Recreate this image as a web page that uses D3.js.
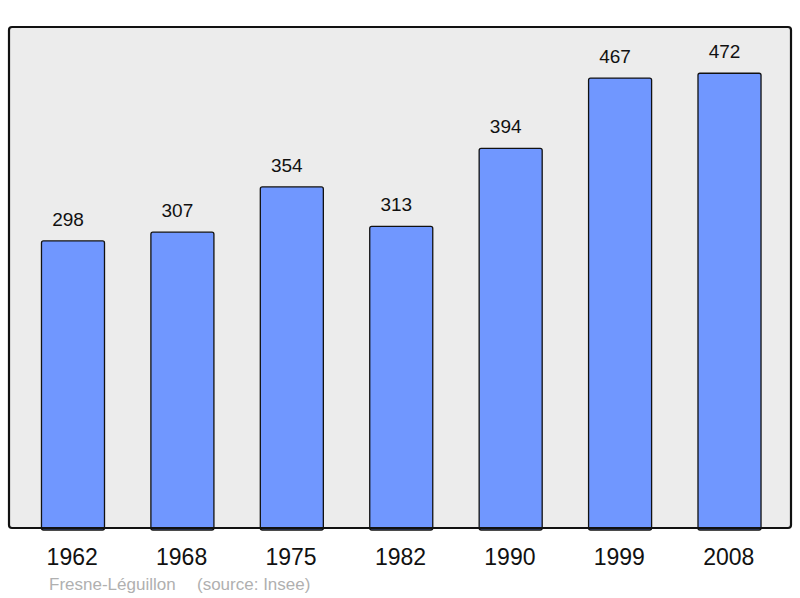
<!DOCTYPE html>
<html><head><meta charset="utf-8">
<script src="https://cdn.jsdelivr.net/npm/d3@7"></script>
<style>body{margin:0;background:#fff;}svg{display:block;}</style>
</head><body>
<svg id="c" width="800" height="598"></svg>
<script>
const years = ["1962","1968","1975","1982","1990","1999","2008"];
const population = [298,307,354,313,394,467,472];
const placeName = "Fresne-Léguillon";
const sourceText = "(source: Insee)";

const svg = d3.select("#c");
const frame = {x0: 9, y0: 27, x1: 791, y1: 528};

svg.append("rect").attr("x", frame.x0).attr("y", frame.y0)
  .attr("width", frame.x1 - frame.x0).attr("height", frame.y1 - frame.y0)
  .attr("rx", 3).attr("fill", "#ececec");

const x = d3.scaleBand().domain(years).range([18.5, 784]).paddingInner(0.424).paddingOuter(0.21);
const y = d3.scaleLinear().domain([0, 520]).range([frame.y1, frame.y0]);

svg.append("g").selectAll("rect").data(population).join("rect")
  .attr("x", (d,i) => x(years[i]))
  .attr("y", d => y(d))
  .attr("width", x.bandwidth())
  .attr("height", d => y(0) - y(d) + 2)
  .attr("rx", 2)
  .attr("fill", "#7097ff").attr("stroke", "#111").attr("stroke-width", 1.3);

svg.append("g").selectAll("text").data(population).join("text")
  .attr("x", (d,i) => x(years[i]) + x.bandwidth()/2 - 5)
  .attr("y", d => y(d) - 15)
  .attr("text-anchor", "middle")
  .attr("font-family", "Liberation Sans, Arial, sans-serif")
  .attr("font-size", 19).attr("fill", "#111")
  .text(d => d);

svg.append("rect").attr("x", frame.x0).attr("y", frame.y0)
  .attr("width", frame.x1 - frame.x0).attr("height", frame.y1 - frame.y0)
  .attr("rx", 3).attr("fill", "none").attr("stroke", "#111").attr("stroke-width", 2.2);

const xAxis = d3.axisBottom(x).tickSize(0).tickPadding(0);
const ax = svg.append("g").attr("transform", `translate(0,${frame.y1})`).call(xAxis);
ax.select(".domain").remove();
ax.selectAll("text").attr("font-family", "Liberation Sans, Arial, sans-serif")
  .attr("font-size", 23).attr("fill", "#111").attr("dy", null).attr("y", 37).attr("dx", -0.8);

const foot = svg.append("text").attr("y", 590)
  .attr("font-family", "Liberation Sans, Arial, sans-serif")
  .attr("font-size", 17).attr("fill", "#b0b0b0");
foot.append("tspan").attr("x", 49).text(placeName);
foot.append("tspan").attr("x", 197).text(sourceText);
</script>
</body></html>
